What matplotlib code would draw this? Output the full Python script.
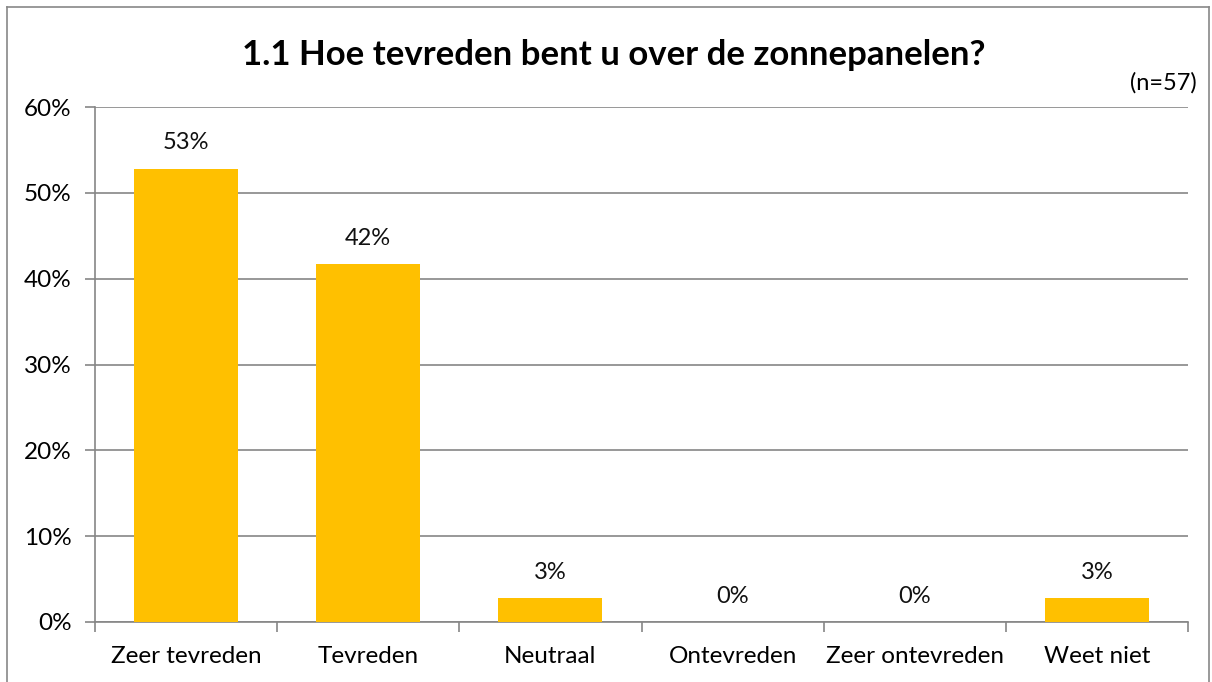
import matplotlib.pyplot as plt
from matplotlib.lines import Line2D
from matplotlib.ticker import MultipleLocator, FuncFormatter

plt.rcParams['font.family'] = ['Lato', 'DejaVu Sans']

categories = ['Zeer tevreden', 'Tevreden', 'Neutraal', 'Ontevreden', 'Zeer ontevreden', 'Weet niet']
values = [52.8, 41.7, 2.8, 0.0, 0.0, 2.8]
labels = ['53%', '42%', '3%', '0%', '0%', '3%']
title = '1.1 Hoe tevreden bent u over de zonnepanelen?'
note = '(n=57)'

bar_color = '#FFC000'
grid_color = '#868686'

fig = plt.figure(figsize=(12.12, 6.82), dpi=100)
ax = fig.add_axes([95 / 1212, 1 - 622 / 682, 1093 / 1212, 515 / 682])

x = list(range(len(categories)))
ax.bar(x, values, width=0.57, color=bar_color, zorder=3)
for xi, v, lab in zip(x, values, labels):
    ax.annotate(lab, (xi, v), xytext=(0, 14), textcoords='offset points',
                ha='center', va='baseline', fontsize=17, color='#111111')

ax.set_xlim(-0.5, len(categories) - 0.5)
ax.set_ylim(0, 60)
ax.yaxis.set_major_locator(MultipleLocator(10))
ax.yaxis.set_major_formatter(FuncFormatter(lambda v, p: f'{v:.0f}%'))
ax.set_xticks(x)
ax.set_xticklabels(categories)
ax.set_xticks([i - 0.5 for i in range(len(categories) + 1)], minor=True)
ax.tick_params(axis='x', which='major', length=0, pad=17, labelsize=17.5)
ax.tick_params(axis='x', which='minor', length=7, color=grid_color, width=1.2)
ax.tick_params(axis='y', length=7, color=grid_color, width=1.2, pad=10, labelsize=17.5)
ax.grid(axis='y', color=grid_color, linewidth=1.2, zorder=0)
for s in ['top', 'right']:
    ax.spines[s].set_visible(False)
for s in ['left', 'bottom']:
    ax.spines[s].set_color(grid_color)
    ax.spines[s].set_linewidth(1.2)

fig.text(614 / 1212, 1 - 55 / 682, title, ha='center', va='center', fontsize=25, fontweight='bold')
fig.text(1197 / 1212, 1 - 83 / 682, note, ha='right', va='center', fontsize=17)

# outer chart border
for xs, ys in [([7, 7], [0, 675]), ([7, 1209], [675, 675]), ([1209, 1209], [675, 0])]:
    fig.add_artist(Line2D([v / 1212 for v in xs], [v / 682 for v in ys],
                          color='#888888', linewidth=1.2))

fig.savefig('out.png', dpi=100)
